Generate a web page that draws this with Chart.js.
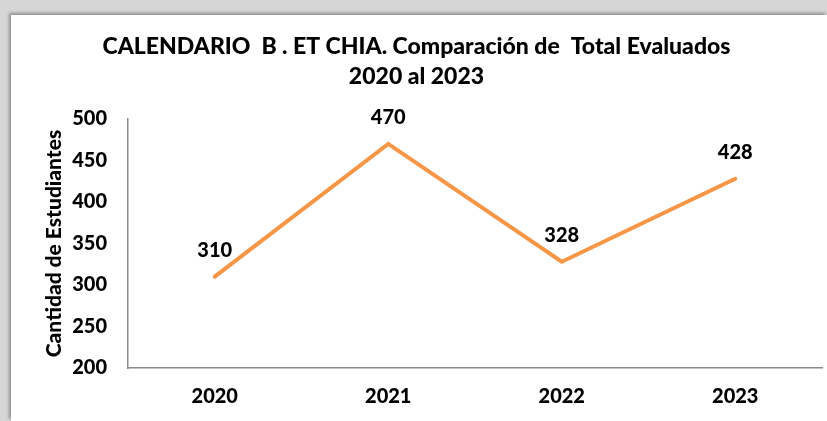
<!DOCTYPE html>
<html lang="es">
<head>
  <meta charset="UTF-8" />
  <title>Comparación de Total Evaluados</title>
  <script src="https://cdn.jsdelivr.net/npm/chart.js"></script>
  <style>
    body {
      margin: 0;
      width: 827px;
      height: 421px;
      overflow: hidden;
      background: #d6d6d6;
      font-family: 'Lato', sans-serif;
    }

    .marco {
      position: absolute;
      left: 11px;
      top: 15px;
      width: 816px;
      height: 406px;
      background: #fff;
      box-shadow: -2px -2px 3px #8f8f8f;
    }

    canvas {
      display: block;
    }
  </style>
</head>
<body>

  <div class="marco">
    <canvas id="grafEvaluados" width="816" height="406"></canvas>
  </div>

  <script>
    // datos
    const anios = ['2020', '2021', '2022', '2023'];
    const evaluados = [310, 470, 328, 428];
    const ticksY = [200, 250, 300, 350, 400, 450, 500];

    const fuente = "'Lato', sans-serif";

    // etiquetas encima de cada punto
    const etiquetasPlugin = {
      id: 'etiquetas',
      afterDatasetsDraw(chart) {
        const ctx = chart.ctx;
        const meta = chart.getDatasetMeta(0);
        ctx.save();
        ctx.font = '900 20px ' + fuente;
        ctx.fillStyle = '#000';
        ctx.textAlign = 'center';
        ctx.textBaseline = 'middle';
        meta.data.forEach((pt, i) => {
          ctx.fillText(String(evaluados[i]), pt.x, pt.y - 26);
        });
        ctx.restore();
      }
    };

    new Chart(document.getElementById('grafEvaluados'), {
      type: 'line',
      data: {
        labels: anios,
        datasets: [{
          data: evaluados,
          borderColor: '#F79646',
          borderWidth: 4,
          borderCapStyle: 'round',
          borderJoinStyle: 'miter',
          pointRadius: 0,
          tension: 0
        }]
      },
      options: {
        responsive: false,
        animation: false,
        layout: { padding: { left: 0, right: 5, top: 0, bottom: 0 } },
        plugins: {
          legend: { display: false },
          tooltip: { enabled: false },
          title: {
            display: true,
            text: ['CALENDARIO  B . ET CHIA. Comparación de  Total Evaluados', '2020 al 2023'],
            color: '#000',
            font: { family: fuente, size: 23, weight: '900', lineHeight: '30px' },
            padding: { top: 17, bottom: 27 }
          }
        },
        scales: {
          x: {
            offset: true,
            grid: { display: false, drawTicks: false },
            border: { display: true, color: '#8c8c8c', width: 1.5 },
            ticks: {
              color: '#000',
              padding: 17,
              font: { family: fuente, size: 20, weight: '900' }
            },
            afterFit: scale => { scale.height = 53; }
          },
          y: {
            min: 200,
            max: 500,
            afterBuildTicks: scale => { scale.ticks = ticksY.map(v => ({ value: v })); },
            grid: { display: false, drawTicks: false },
            border: { display: true, color: '#8c8c8c', width: 1.5 },
            ticks: {
              color: '#000',
              padding: 21,
              font: { family: fuente, size: 20, weight: '900' }
            },
            title: {
              display: true,
              text: 'Cantidad de Estudiantes',
              color: '#000',
              font: { family: fuente, size: 21, weight: '900' },
              padding: { top: 31, bottom: 0 }
            },
            afterFit: scale => { scale.width = 117; }
          }
        }
      },
      plugins: [etiquetasPlugin]
    });
  </script>
</body>
</html>
